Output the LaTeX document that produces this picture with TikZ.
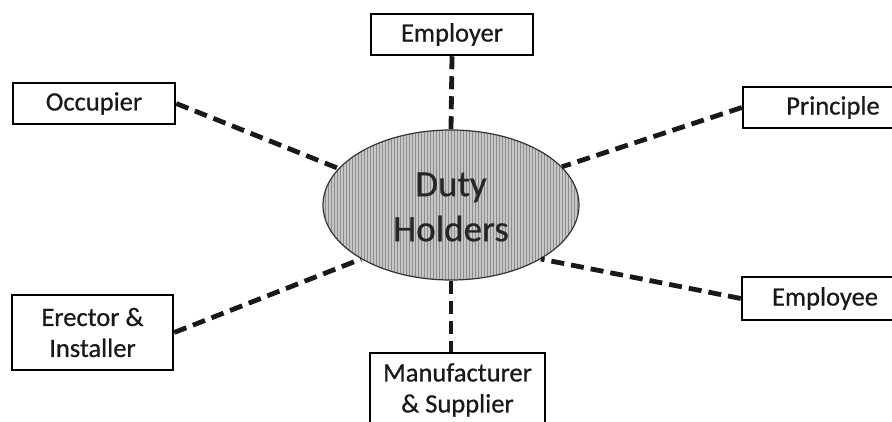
\documentclass[tikz,border=0pt]{standalone}
\usepackage{fontspec}
\setmainfont{Carlito}
\newfontfamily\boxfont[FakeBold=0.6]{Carlito}
\usetikzlibrary{shapes.geometric}
\tikzset{
  box/.style={draw=black, line width=2.5pt, fill=white, inner sep=0pt, align=center,
    font=\boxfont\fontsize{26.5}{31}\selectfont, text=black!90},
  hub/.style={ellipse, draw=black!80, line width=1.2pt, fill=black!22, inner sep=0pt,
    minimum width=256pt, minimum height=150pt},
  hubtext/.style={align=center, font=\boxfont\fontsize{37}{45}\selectfont, text=black!85},
  conn/.style={line width=4.8pt, dash pattern=on 13pt off 7pt, black!90}
}
\begin{document}
\begin{tikzpicture}[x=1pt,y=-1pt]
\useasboundingbox (0,0) rectangle (892,422);
\fill[white] (0,0) rectangle (892,422);
\clip (0,0) rectangle (892,422);
% hub
\node[hub, path picture={
  \foreach \i in {-132,-129,...,132}
    \draw[black!45, line width=0.7pt] ([xshift=\i pt]path picture bounding box.north) -- ([xshift=\i pt]path picture bounding box.south);
  }] (dh) at (451,205) {};
\node[hubtext] (dhtext) at (451,207) {Duty\\Holders};
% boxes
\node[box, minimum width=162pt, minimum height=41pt] (employer) at (452,34.5) {Employer};
\node[box, minimum width=162pt, minimum height=41pt] (occupier) at (94,103.5) {Occupier};
\node[box, minimum width=180pt, minimum height=41pt] (principle) at (833,107.5) {Principle};
\node[box, minimum width=166pt, minimum height=43pt] (employee) at (825,298.5) {Employee};
\node[box, minimum width=161pt, minimum height=75pt] (erector) at (92.5,332.5) {Erector \&\\Installer};
\node[box, minimum width=175pt, minimum height=74pt] (manuf) at (457.5,390) {Manufacturer\\\& Supplier};
% connectors
\draw[conn] (employer.south) -- (dh.north);
\draw[conn] (dh.south) -- (dh.south |- manuf.north);
\draw[conn] (occupier.east) -- (dh.162);
\draw[conn] (principle.west) -- (dh.19);
\draw[conn] (erector.east) -- (dh.211);
\draw[conn] (employee.west) -- (dh.-31);
\end{tikzpicture}
\end{document}
